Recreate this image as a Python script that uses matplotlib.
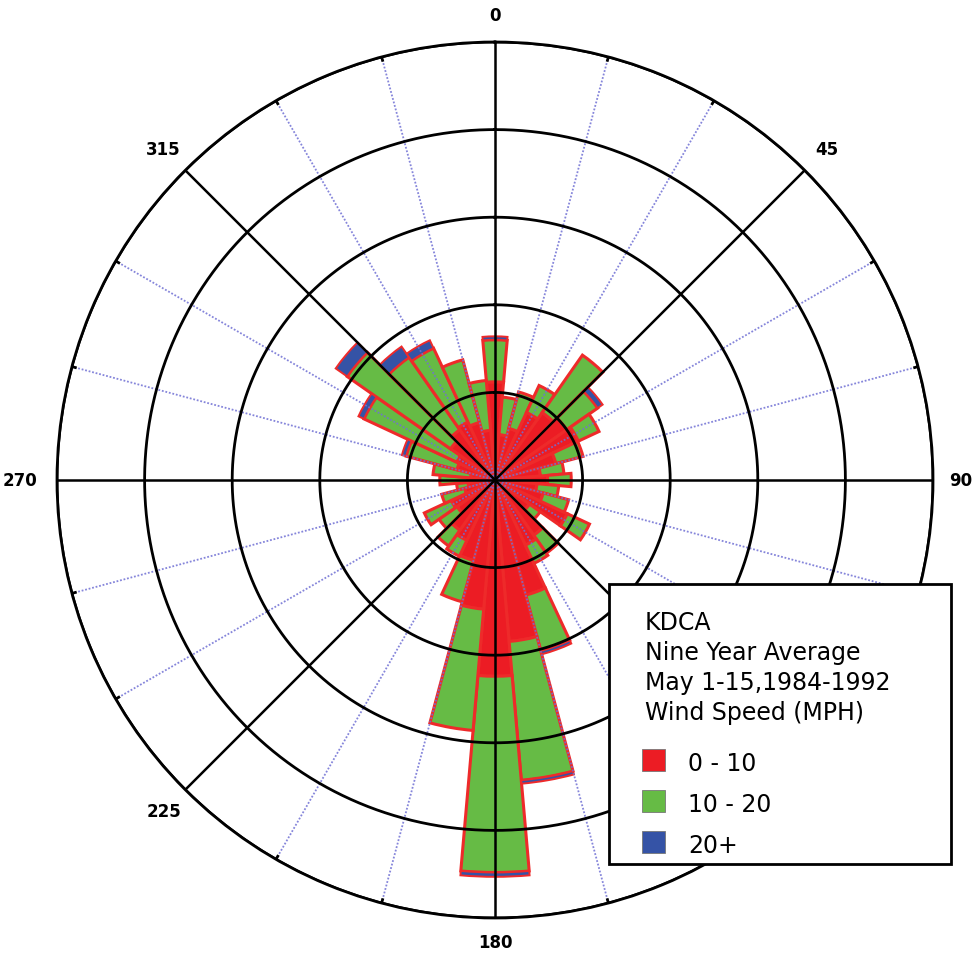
import numpy as np
import matplotlib
matplotlib.use("Agg")
import matplotlib.pyplot as plt
from matplotlib.patches import Rectangle

# ---- data (ring spacing = 1 unit) ----
directions = np.arange(0, 360, 10)
speed_0_10 = [1.12, 0.52, 0.61, 0.85, 0.94, 1.00, 1.05, 0.72, 0.52, 0.60,
              0.48, 0.57, 0.91, 0.48, 0.77, 0.82, 1.36, 1.85, 2.24, 1.48,
              0.95, 0.76, 0.70, 0.53, 0.55, 0.36, 0.31, 0.31, 0.28, 0.45,
              0.48, 0.62, 0.70, 0.73, 0.68, 0.57]
speed_10_20 = [0.48, 0.43, 0.43, 0.34, 0.80, 0.43, 0.26, 0.32, 0.27, 0.27,
               0.25, 0.30, 0.28, 0.15, 0.25, 0.23, 0.66, 1.59, 2.24, 1.39,
               0.49, 0.20, 0.22, 0.25, 0.34, 0.27, 0.13, 0.32, 0.43, 0.60,
               1.17, 1.44, 1.01, 0.93, 0.74, 0.57]
speed_20_plus = [0.04, 0, 0, 0, 0, 0.07, 0, 0, 0, 0,
                 0, 0, 0, 0, 0, 0, 0.04, 0.04, 0.05, 0,
                 0, 0, 0, 0, 0, 0, 0, 0, 0, 0.05,
                 0.07, 0.16, 0.15, 0.10, 0, 0]
ring_values = [1, 2, 3, 4, 5]
angle_labels = ["0", "45", "90", "135", "180", "225", "270", "315"]
legend_title = ["KDCA", "Nine Year Average", "May 1-15,1984-1992", "Wind Speed (MPH)"]
legend_labels = ["0 - 10", "10 - 20", "20+"]

RED = "#EC1C24"
GREEN = "#66BB45"
BLUE = "#3553A6"
EDGE = "#EE2A2A"

W, H = 976, 954
fig = plt.figure(figsize=(W / 100, H / 100), dpi=100)
cx, cy, R = 495, 481, 438
ax = fig.add_axes([(cx - R) / W, (H - cy - R) / H, 2 * R / W, 2 * R / H], projection="polar")
ax.set_theta_zero_location("N")
ax.set_theta_direction(-1)
ax.set_ylim(0, 5)
ax.set_xticks([])
ax.set_yticks([])
ax.grid(False)
ax.spines["polar"].set_linewidth(2.0)
ax.spines["polar"].set_color("black")

theta = np.deg2rad(directions)
width = np.deg2rad(10)
s1 = np.array(speed_0_10)
s2 = np.array(speed_10_20)
s3 = np.array(speed_20_plus)

ax.bar(theta, s1, width=width, bottom=0, color=RED, edgecolor=EDGE, linewidth=2.2, zorder=2)
ax.bar(theta, s2, width=width, bottom=s1, color=GREEN, edgecolor=EDGE, linewidth=2.2, zorder=2)
m = s3 > 0
ax.bar(theta[m], s3[m], width=width, bottom=(s1 + s2)[m], color=BLUE, edgecolor=EDGE,
       linewidth=1.4, zorder=2)

# grid
tt = np.linspace(0, 2 * np.pi, 720)
for r in ring_values:
    ax.plot(tt, np.full_like(tt, r), color="black", lw=2.0, zorder=3)
for a in range(0, 360, 15):
    if a % 45 == 0:
        ax.plot([np.deg2rad(a)] * 2, [0, 5], color="black", lw=1.8, zorder=3)
    else:
        ax.plot([np.deg2rad(a)] * 2, [0, 5], color="#7070D4", lw=1.3, ls=(0, (1, 1)),
                zorder=2.5, alpha=0.85)
        ax.plot([np.deg2rad(a)] * 2, [4.96, 5.0], color="black", lw=2.0, zorder=3)

label_pos = {0: (5.2, "center", "bottom"), 90: (5.18, "left", "center"),
             180: (5.17, "center", "top"), 270: (5.22, "right", "center")}
for i, lab in enumerate(angle_labels):
    a = 45 * i
    r, ha, va = label_pos.get(a, (5.35, "center", "center"))
    ax.text(np.deg2rad(a), r, lab, ha=ha, va=va, fontsize=12,
            fontweight="bold", family="DejaVu Sans", clip_on=False, zorder=4)

# legend box
def fx(px):
    return px / W

def fy(py):
    return 1 - py / H

box = Rectangle((fx(609), fy(865)), fx(951) - fx(609), fy(585) - fy(865),
                transform=fig.transFigure, facecolor="white", edgecolor="black",
                linewidth=2.0, zorder=10)
fig.add_artist(box)
for i, line in enumerate(legend_title):
    fig.text(fx(645), fy(630 + 30 * i), line, ha="left", va="baseline",
             fontsize=17, family="DejaVu Sans", zorder=11)
for i, (lab, col) in enumerate(zip(legend_labels, [RED, GREEN, BLUE])):
    top = 750 + 41 * i
    sq = Rectangle((fx(642), fy(top + 22)), fx(665) - fx(642), fy(top) - fy(top + 22),
                   transform=fig.transFigure, facecolor=col, edgecolor="#777777",
                   linewidth=0.6, zorder=11)
    fig.add_artist(sq)
    fig.text(fx(688), fy(top + 21), lab, ha="left", va="baseline",
             fontsize=17, family="DejaVu Sans", zorder=11)

fig.savefig("out.png", dpi=100, facecolor="white")
